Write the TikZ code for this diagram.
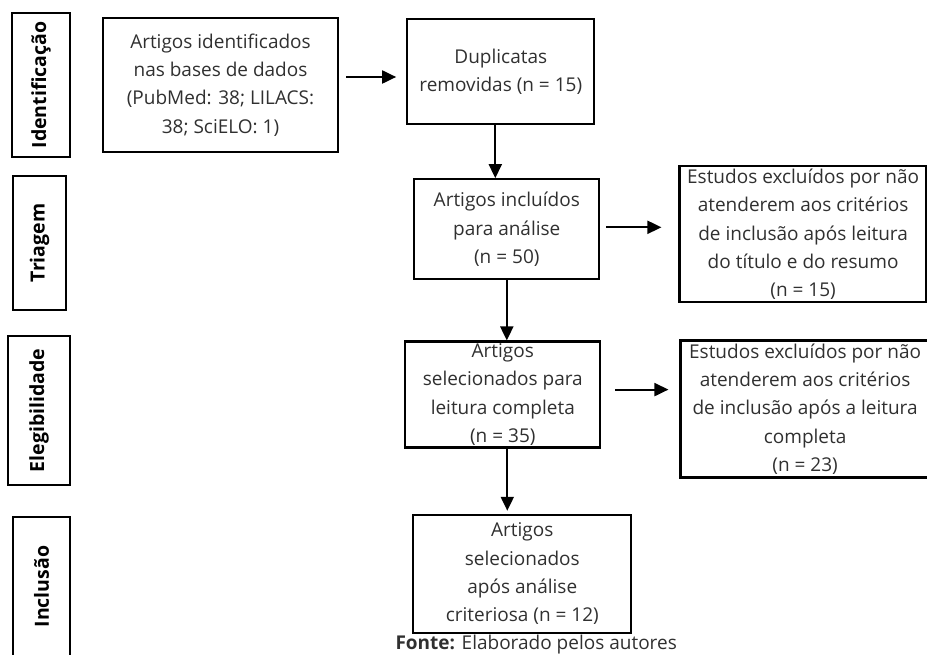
\documentclass[tikz,border=0pt]{standalone}
\usepackage{fontspec}
\setmainfont{Open Sans}
\usetikzlibrary{positioning,arrows.meta}
\definecolor{txtgray}{HTML}{303030}
\tikzset{
    flownode/.style={
        rectangle,draw,line width=2.3pt,align=center,text=txtgray,inner sep=2pt,
        font=\fontsize{19}{28.3}\selectfont
    },
    phasenode/.style={
        rectangle,draw,line width=2.3pt,rotate=90,inner sep=2pt,
        font=\fontsize{19.5}{23}\selectfont\bfseries
    },
    flowarrow/.style={->,line width=2pt}
}

\begin{document}
\begin{tikzpicture}[x=1pt,y=-1pt, >={Triangle[length=14pt,width=13pt]}]
\useasboundingbox (0,0) rectangle (927,655);
\node[phasenode,minimum width=144pt,minimum height=58pt] (fIdent) at (41,85) {Identificação};
\node[phasenode,minimum width=134pt,minimum height=53pt] (fTriag) at (39.5,243) {Triagem};
\node[phasenode,minimum width=149pt,minimum height=62pt] (fEleg) at (39,410.5) {Elegibilidade};
\node[phasenode,minimum width=139pt,minimum height=57pt] (fIncl) at (41.5,586.5) {Inclusão};

\node[flownode,minimum width=235pt,minimum height=134pt] (ident) at (220.5,85) {Artigos identificados\\nas bases de dados\\(PubMed: 38; LILACS:\\38; SciELO: 1)};
\node[flownode,minimum width=187pt,minimum height=105pt,right=67pt of ident,yshift=13.5pt] (dup) {Duplicatas\\removidas (n = 15)};
\node[flownode,minimum width=185pt,minimum height=100pt,below=53pt of dup,xshift=6pt] (incl) {Artigos incluídos\\para análise\\(n = 50)};
\node[flownode,minimum width=247pt,minimum height=136pt,right=78pt of incl,yshift=-5pt] (excl1) {Estudos excluídos por não\\atenderem aos critérios\\de inclusão após leitura\\do título e do resumo\\(n = 15)};
\node[flownode,minimum width=195pt,minimum height=106pt,below=60pt of incl,xshift=-4pt] (sel) {Artigos\\selecionados para\\leitura completa\\(n = 35)};
\node[flownode,minimum width=249pt,minimum height=137pt,right=78pt of sel,yshift=-14.5pt] (excl2) {Estudos excluídos por não\\atenderem aos critérios\\de inclusão após a leitura\\completa\\(n = 23)};
\node[flownode,minimum width=218pt,minimum height=118pt,below=65pt of sel,xshift=19.5pt] (final) {Artigos\\selecionados\\após análise\\criteriosa (n = 12)};
\node[anchor=base west,text=txtgray,font=\fontsize{19}{22}\selectfont] (fonte) at (392,649) {\textbf{Fonte:} Elaborado pelos autores};

\coordinate (a1) at ([yshift=8pt]ident.east);
\coordinate (a2) at ([xshift=-5.5pt]dup.south);
\coordinate (a3) at ([yshift=2pt]incl.east);
\coordinate (a4) at ([yshift=5pt]sel.east);
\coordinate (a5) at ([xshift=4.5pt]sel.south);
\draw[flowarrow,shorten <=7pt,shorten >=10pt] (a1) -- (a1 -| dup.west);
\draw[flowarrow] (a2) -- (a2 |- incl.north);
\draw[flowarrow,shorten <=6pt,shorten >=17pt] (a3) -- (a3 -| excl1.west);
\draw[flowarrow] (incl.south) -- (incl.south |- sel.north);
\draw[flowarrow,shorten <=14pt,shorten >=11pt] (a4) -- (a4 -| excl2.west);
\draw[flowarrow,shorten >=3pt] (a5) -- (a5 |- final.north);
\end{tikzpicture}
\end{document}
